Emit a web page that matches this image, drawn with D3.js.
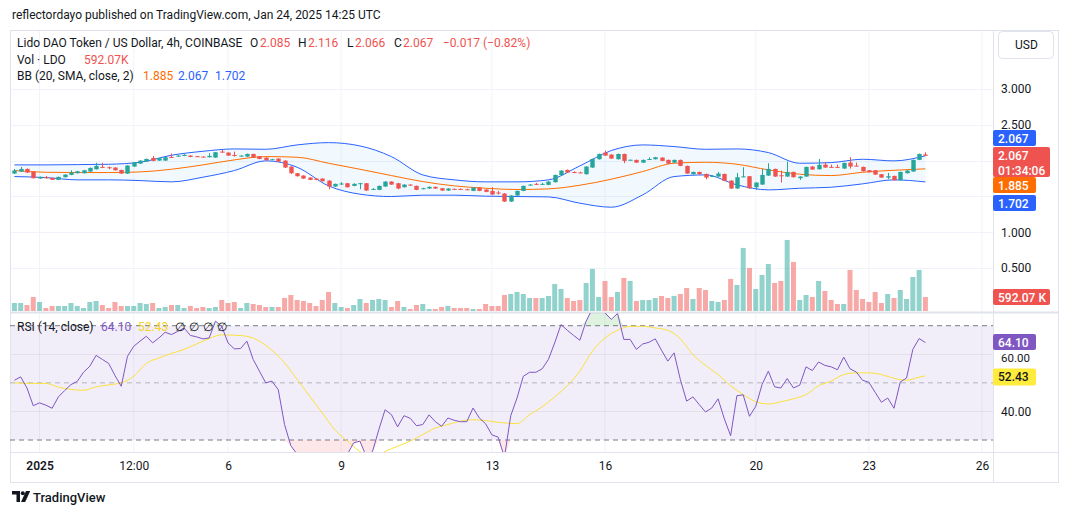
<!DOCTYPE html>
<html><head><meta charset="utf-8">
<script src="https://cdn.jsdelivr.net/npm/d3@7"></script>
<style>body{margin:0;background:#fff;} svg{display:block;font-family:Roboto,"Noto Sans",sans-serif;}</style>
</head><body><svg id="c" width="1068" height="515"></svg>
<script>
// ---- DATA (4h candles, index 0 = Dec 31 08:00, last = Jan 24 12:00) ----
const opens = [1.819,1.847,1.884,1.847,1.749,1.768,1.758,1.731,1.768,1.800,
1.824,1.824,1.847,1.879,1.912,1.907,1.903,1.870,1.819,1.917,
1.958,1.986,2.037,2.000,2.000,2.051,2.056,2.065,2.070,2.061,
2.056,2.047,2.042,2.126,2.112,2.079,2.061,2.056,2.093,2.061,
2.042,2.010,2.028,2.000,1.917,1.824,1.791,1.763,1.749,1.749,
1.721,1.638,1.670,1.684,1.647,1.680,1.684,1.598,1.591,1.638,
1.707,1.684,1.628,1.665,1.647,1.605,1.610,1.633,1.614,1.582,
1.605,1.605,1.600,1.577,1.624,1.596,1.577,1.554,1.540,1.428,
1.512,1.577,1.656,1.675,1.665,1.661,1.698,1.796,1.870,1.840,
1.835,1.810,1.903,2.019,2.112,2.084,2.019,2.093,2.008,2.010,
1.972,2.015,2.019,2.042,2.010,1.972,2.010,1.926,1.810,1.842,
1.814,1.782,1.777,1.814,1.721,1.610,1.775,1.782,1.628,1.665,
1.791,1.884,1.795,1.777,1.842,1.754,1.777,1.917,1.879,1.944,
1.912,1.912,1.889,1.972,1.930,1.912,1.865,1.865,1.810,1.763,
1.786,1.726,1.824,1.847,2.010,2.085];
const closes = [1.861,1.884,1.833,1.754,1.772,1.754,1.731,1.772,1.805,1.833,
1.851,1.865,1.898,1.926,1.905,1.894,1.865,1.819,1.931,1.977,
2.000,2.023,1.996,2.033,2.047,2.042,2.070,2.080,2.051,2.054,
2.047,2.065,2.117,2.112,2.070,2.065,2.070,2.093,2.042,2.023,
2.005,2.019,1.986,1.903,1.824,1.782,1.749,1.731,1.731,1.712,
1.638,1.675,1.680,1.628,1.675,1.684,1.582,1.605,1.647,1.707,
1.665,1.610,1.665,1.651,1.591,1.614,1.633,1.610,1.582,1.610,
1.596,1.596,1.591,1.624,1.577,1.563,1.526,1.545,1.428,1.512,
1.577,1.647,1.665,1.665,1.675,1.707,1.800,1.861,1.833,1.835,
1.830,1.917,2.023,2.093,2.070,2.028,2.093,1.996,2.012,1.972,
2.010,2.023,2.047,1.996,1.958,2.010,1.926,1.819,1.842,1.810,
1.763,1.786,1.819,1.717,1.610,1.768,1.780,1.614,1.693,1.800,
1.884,1.777,1.790,1.842,1.768,1.777,1.912,1.875,1.940,1.903,
1.908,1.908,1.968,1.917,1.926,1.851,1.838,1.805,1.763,1.782,
1.726,1.842,1.861,2.010,2.093,2.067];
const highs = [1.884,1.912,1.890,1.851,1.777,1.786,1.760,1.777,1.808,1.865,
1.856,1.870,1.903,1.970,1.970,1.917,1.907,1.872,1.935,1.980,
2.005,2.028,2.065,2.037,2.051,2.100,2.075,2.090,2.075,2.065,
2.060,2.103,2.120,2.149,2.115,2.126,2.075,2.098,2.096,2.064,
2.045,2.025,2.030,2.005,1.920,1.828,1.795,1.768,1.752,1.752,
1.724,1.678,1.700,1.688,1.684,1.690,1.688,1.615,1.651,1.712,
1.712,1.688,1.670,1.668,1.651,1.620,1.640,1.638,1.618,1.614,
1.610,1.612,1.608,1.628,1.628,1.600,1.628,1.577,1.545,1.517,
1.580,1.651,1.672,1.690,1.690,1.712,1.805,1.865,1.875,1.850,
1.845,1.920,2.026,2.097,2.140,2.088,2.097,2.097,2.015,2.014,
2.014,2.045,2.051,2.047,2.014,2.014,2.014,1.930,1.846,1.846,
1.818,1.796,1.842,1.818,1.725,1.828,1.907,1.786,1.698,1.884,
1.963,1.888,1.861,1.986,1.846,1.781,1.916,1.921,2.023,1.977,
1.944,1.944,1.972,2.047,1.972,1.916,1.869,1.869,1.814,1.828,
1.790,1.846,1.865,2.014,2.097,2.116];
const lows = [1.814,1.842,1.828,1.749,1.745,1.749,1.728,1.728,1.765,1.796,
1.820,1.820,1.842,1.875,1.903,1.879,1.861,1.814,1.814,1.912,
1.955,1.982,1.991,1.996,1.996,2.040,2.052,2.062,2.047,2.052,
2.044,2.044,2.040,2.108,2.066,2.056,2.058,2.052,2.038,2.019,
2.000,2.006,1.982,1.898,1.814,1.777,1.745,1.726,1.726,1.708,
1.600,1.634,1.660,1.624,1.642,1.600,1.577,1.591,1.587,1.633,
1.661,1.600,1.624,1.647,1.587,1.600,1.605,1.605,1.578,1.578,
1.591,1.590,1.587,1.573,1.573,1.558,1.521,1.526,1.424,1.424,
1.508,1.573,1.652,1.661,1.661,1.656,1.693,1.791,1.828,1.825,
1.825,1.805,1.898,2.014,2.066,2.024,2.014,1.963,2.000,1.968,
1.968,2.010,2.015,1.991,1.954,1.968,1.922,1.815,1.806,1.806,
1.740,1.772,1.773,1.712,1.606,1.606,1.768,1.605,1.591,1.661,
1.787,1.773,1.693,1.773,1.764,1.731,1.773,1.871,1.875,1.899,
1.904,1.904,1.885,1.889,1.921,1.847,1.834,1.801,1.759,1.740,
1.722,1.722,1.820,1.843,2.006,2.066];
// volume in thousands of LDO
const volumes = [338,338,254,592,381,127,212,212,212,338,
212,127,381,423,254,127,381,212,212,212,
338,296,338,127,169,254,254,127,212,127,
169,127,169,465,338,381,127,338,296,254,
169,169,169,550,677,465,423,338,212,465,
804,338,169,127,254,508,338,465,508,465,
169,423,169,85,254,296,85,85,169,212,
127,127,127,85,85,296,212,212,677,719,
804,719,550,550,550,635,1142,931,550,423,
465,1184,1777,592,1269,592,804,1396,1269,423,
465,465,550,635,550,635,719,973,508,973,
888,423,381,465,1354,1100,2665,1819,931,1523,
1988,1184,1269,3003,2073,465,677,592,1269,846,
465,296,296,1734,888,508,381,804,338,719,
550,888,508,1438,1734,592.07];
// Bollinger Bands read at every 5th candle
const bbIdx   = [0,5,10,15,20,25,30,35,40,45,50,55,60,65,70,75,80,85,90,95,100,105,110,115,120,125,130,135,140,145];
const bbUpper = [1.940,1.940,1.944,1.949,1.977,2.075,2.130,2.163,2.158,2.219,2.251,2.205,2.056,1.800,1.731,1.703,1.703,1.731,1.926,2.140,2.219,2.196,2.158,2.163,2.112,1.963,1.972,2.019,1.996,2.067];
const bbMid   = [1.861,1.837,1.833,1.833,1.842,1.879,1.940,2.010,2.056,2.047,1.963,1.879,1.791,1.707,1.647,1.614,1.596,1.605,1.656,1.740,1.847,1.963,1.977,1.949,1.870,1.810,1.791,1.837,1.865,1.885];
const bbLower = [1.777,1.763,1.731,1.731,1.721,1.703,1.768,1.861,1.996,1.907,1.647,1.531,1.498,1.517,1.517,1.503,1.498,1.493,1.405,1.349,1.521,1.777,1.800,1.661,1.591,1.614,1.628,1.675,1.731,1.702];
// RSI(14)
const rsi = [50.9,52.1,48.2,42.0,43.0,42.2,41.1,45.1,47.3,49.4,
50.5,53.7,55.8,59.6,58.2,56.8,52.6,48.8,59.3,62.8,
64.6,66.3,64.0,65.7,67.7,66.9,68.0,69.2,66.6,66.1,
65.4,65.7,71.6,69.8,64.0,61.9,62.0,64.6,58.2,54.1,
50.0,50.6,47.6,35.4,28.0,25.0,22.0,20.0,21.0,20.0,
16.0,20.0,21.5,25.0,29.0,29.6,24.3,26.0,33.6,40.6,
38.9,34.6,38.5,37.6,35.0,35.4,38.8,36.4,34.8,37.7,
36.9,36.4,36.4,41.2,37.7,35.7,31.8,31.0,24.0,38.5,
44.7,52.3,53.7,53.7,54.9,58.2,64.0,70.4,68.4,66.6,
64.9,71.6,76.0,77.4,74.5,72.2,74.3,65.2,65.2,61.7,
63.6,64.2,65.4,61.4,57.6,60.5,51.1,43.6,45.1,42.4,
39.8,41.2,44.4,37.4,31.5,45.5,45.8,38.3,41.8,49.4,
54.1,48.6,48.2,51.5,48.2,49.2,55.6,54.3,57.3,56.1,
55.6,54.6,59.0,54.9,53.8,50.9,50.2,46.7,43.2,44.7,
41.1,50.3,51.7,61.7,65.5,64.10];
// RSI-based MA read at sample candles
const maIdx = [0,3,5,7,9,11,13,15,17,19,21,23,25,27,29,31,33,35,37,39,41,43,45,47,49,51,53,55,57,59,61,63,65,67,69,71,73,75,77,80,82,84,86,88,90,92,94,96,98,100,102,104,106,108,110,112,114,116,118,120,122,124,126,128,130,132,134,136,138,140,142,144,145];
const maVal = [50.0,49.8,49.8,48.5,47.7,47.4,48.6,49.3,50.0,52.3,56.8,58.7,60.3,61.7,63.6,65.5,66.8,66.7,66.3,64.6,61.4,57.0,51.2,45.3,39.5,33.6,29.6,26.0,23.7,26.0,27.8,29.6,31.9,34.2,35.4,36.6,37.1,36.8,36.2,35.7,38.9,41.6,45.1,49.0,54.1,61.1,65.7,68.4,69.8,69.8,69.2,68.4,65.4,59.9,56.1,52.9,49.0,45.9,43.4,42.6,43.4,44.4,45.9,49.0,50.6,52.9,53.5,53.5,52.9,51.6,50.9,52.0,52.43];
// axis ticks
const priceGrid = [0.5,1.0,1.5,2.0,2.5,3.0];
const priceLabels = [0.5,1.0,2.5,3.0];   // 1.5 and 2.0 are hidden behind the value badges
const rsiTicks = [40,60];
const timeTickIdx = [4,19,34,52,76,94,118,136,154];
const timeTickLabels = ["2025","12:00","6","9","13","16","20","23","26"];

// ---- LAYOUT ----
const svg = d3.select("#c");
const L=10, R=993, FR=1058, T=30, PB=312, RB=452, XB=482;
const GREEN="#26a69a", RED="#ef5350", TXT="#131722", GRID="#f0f3fa", BORDER="#e0e3eb";
const x = d3.scaleLinear().domain([0,145]).range([14.4,925.4]);
const y = d3.scaleLinear().domain([0.5,3]).range([268,89]);
const yv = d3.scaleLinear().domain([0,3000]).range([311,240]);
const yr = d3.scaleLinear().domain([30,70]).range([440,325.7]);

const defs = svg.append("defs");
defs.append("clipPath").attr("id","cp").append("rect").attr("x",L).attr("y",T).attr("width",R-L).attr("height",PB-T);
defs.append("clipPath").attr("id","cr").append("rect").attr("x",L).attr("y",PB+1).attr("width",R-L).attr("height",RB-PB-1);

// header
svg.append("text").attr("x",12).attr("y",19).attr("font-size",12).attr("fill",TXT)
  .text("reflectordayo published on TradingView.com, Jan 24, 2025 14:25 UTC");

// grid
const g = svg.append("g");
g.selectAll(".vg").data(timeTickIdx).join("line").attr("x1",d=>x(d)).attr("x2",d=>x(d))
  .attr("y1",T).attr("y2",RB).attr("stroke",GRID).attr("stroke-width",1);
g.selectAll(".hg").data(priceGrid).join("line").attr("x1",L).attr("x2",R)
  .attr("y1",d=>Math.round(y(d))+0.5).attr("y2",d=>Math.round(y(d))+0.5).attr("stroke",GRID);

// RSI background + grid
svg.append("rect").attr("x",L).attr("width",R-L).attr("y",yr(70)).attr("height",yr(30)-yr(70)).attr("fill","rgba(126,87,194,0.1)");
svg.selectAll(".rg").data(rsiTicks).join("line").attr("x1",L).attr("x2",R)
  .attr("y1",d=>Math.round(yr(d))+0.5).attr("y2",d=>Math.round(yr(d))+0.5).attr("stroke","rgba(120,123,134,0.12)");

// frame lines
svg.append("rect").attr("x",L+0.5).attr("y",T+0.5).attr("width",FR-L).attr("height",XB-T).attr("fill","none").attr("stroke",BORDER);
svg.append("line").attr("x1",L).attr("x2",FR).attr("y1",PB+0.5).attr("y2",PB+0.5).attr("stroke",BORDER).attr("stroke-width",2);
svg.append("line").attr("x1",L).attr("x2",FR).attr("y1",RB+0.5).attr("y2",RB+0.5).attr("stroke",BORDER);
svg.append("line").attr("x1",R+0.5).attr("x2",R+0.5).attr("y1",T).attr("y2",XB).attr("stroke",BORDER);

// price pane
const pp = svg.append("g").attr("clip-path","url(#cp)");
const idx = d3.range(closes.length);
pp.selectAll(".vol").data(idx).join("rect")
  .attr("x",i=>x(i)-2.5).attr("width",5).attr("y",i=>yv(volumes[i])).attr("height",i=>yv(0)-yv(volumes[i]))
  .attr("fill",i=>closes[i]>=opens[i]?"rgba(38,166,154,0.5)":"rgba(239,83,80,0.5)");
const bbPts = bbIdx.map((d,k)=>({i:d,u:bbUpper[k],m:bbMid[k],l:bbLower[k]}));
pp.append("path").datum(bbPts).attr("fill","rgba(33,150,243,0.06)")
  .attr("d",d3.area().x(d=>x(d.i)).y0(d=>y(d.l)).y1(d=>y(d.u)).curve(d3.curveMonotoneX));
pp.append("path").datum(bbPts).attr("fill","none").attr("stroke","#2962ff").attr("stroke-width",1)
  .attr("d",d3.line().x(d=>x(d.i)).y(d=>y(d.u)).curve(d3.curveMonotoneX));
pp.append("path").datum(bbPts).attr("fill","none").attr("stroke","#2962ff").attr("stroke-width",1)
  .attr("d",d3.line().x(d=>x(d.i)).y(d=>y(d.l)).curve(d3.curveMonotoneX));
pp.append("path").datum(bbPts).attr("fill","none").attr("stroke","#ff6d00").attr("stroke-width",1)
  .attr("d",d3.line().x(d=>x(d.i)).y(d=>y(d.m)).curve(d3.curveMonotoneX));
const col = i=>closes[i]>=opens[i]?GREEN:RED;
pp.selectAll(".wick").data(idx).join("line")
  .attr("x1",i=>Math.round(x(i))+0.5).attr("x2",i=>Math.round(x(i))+0.5)
  .attr("y1",i=>y(highs[i])).attr("y2",i=>y(lows[i])).attr("stroke",col).attr("stroke-width",1);
pp.selectAll(".body").data(idx).join("rect")
  .attr("x",i=>Math.round(x(i))+0.5-2.2).attr("width",4.4)
  .attr("y",i=>y(Math.max(opens[i],closes[i])))
  .attr("height",i=>Math.max(1,Math.abs(y(opens[i])-y(closes[i]))))
  .attr("fill",col);

// RSI pane
const rp = svg.append("g").attr("clip-path","url(#cr)");
[70,30].forEach(v=>rp.append("line").attr("x1",L).attr("x2",R).attr("y1",yr(v)).attr("y2",yr(v))
  .attr("stroke","#787b86").attr("stroke-dasharray","5,4"));
rp.append("line").attr("x1",L).attr("x2",R).attr("y1",yr(50)).attr("y2",yr(50))
  .attr("stroke","rgba(120,123,134,0.5)").attr("stroke-dasharray","5,4");
rp.append("path").datum(idx).attr("fill","rgba(76,175,80,0.18)")
  .attr("d",d3.area().x(i=>x(i)).y0(yr(70)).y1(i=>yr(Math.max(rsi[i],70))));
rp.append("path").datum(idx).attr("fill","rgba(242,54,69,0.12)")
  .attr("d",d3.area().x(i=>x(i)).y0(yr(30)).y1(i=>yr(Math.min(rsi[i],30))));
rp.append("path").datum(maIdx.map((d,k)=>[d,maVal[k]])).attr("fill","none").attr("stroke","#fbe13d").attr("stroke-width",1)
  .attr("d",d3.line().x(d=>x(d[0])).y(d=>yr(d[1])).curve(d3.curveMonotoneX));
rp.append("path").datum(idx).attr("fill","none").attr("stroke","#7e57c2").attr("stroke-width",1)
  .attr("d",d3.line().x(i=>x(i)).y(i=>yr(rsi[i])));

// axes
const ax = svg.append("g").attr("transform",`translate(${R},0)`)
  .call(d3.axisRight(y).tickValues(priceLabels).tickFormat(d3.format(".3f")).tickSize(0).tickPadding(8));
const axr = svg.append("g").attr("transform",`translate(${R},0)`)
  .call(d3.axisRight(yr).tickValues(rsiTicks).tickFormat(d3.format(".2f")).tickSize(0).tickPadding(8));
const axx = svg.append("g").attr("transform",`translate(0,${RB})`)
  .call(d3.axisBottom(x).tickValues(timeTickIdx).tickFormat((d,k)=>timeTickLabels[k]).tickSize(0).tickPadding(9));
[ax,axr,axx].forEach(a=>{a.select(".domain").remove();
  a.selectAll("text").attr("font-size",12).attr("fill",TXT).attr("font-family","Roboto,'Noto Sans',sans-serif");});
axr.selectAll("text").filter(d=>d===60).attr("font-size",11.5).attr("dy","0.62em");
axx.selectAll("text").filter((d,k)=>k===0).attr("font-weight",600);

// legend
function seg(yy, parts){ parts.forEach(p=>svg.append("text").attr("x",p[0]).attr("y",yy).attr("font-size",12)
  .attr("fill",p[2]||TXT).text(p[1])); }
const last = closes.length-1;
const f3 = d3.format(".3f");
seg(47,[[17,"Lido DAO Token / US Dollar, 4h, COINBASE"],[250,"O"],[260,f3(opens[last]),RED],[298,"H"],[308,f3(highs[last]),RED],
  [347,"L"],[355,f3(lows[last]),RED],[394,"C"],[403,f3(closes[last]),RED],[443,"−0.017 (−0.82%)",RED]]);
seg(64,[[17,"Vol · LDO"],[84,d3.format(".2f")(volumes[last])+"K",RED]]);
seg(80,[[17,"BB (20, SMA, close, 2)"],[143,f3(bbMid[bbMid.length-1]),"#ff6d00"],[178,f3(bbUpper[bbUpper.length-1]),"#2962ff"],[215,f3(bbLower[bbLower.length-1]),"#2962ff"]]);
seg(331,[[17,"RSI (14, close)"],[101,d3.format(".2f")(rsi[last]),"#7e57c2"],[138,d3.format(".2f")(maVal[maVal.length-1]),"#f5d327"],
  [175,"∅"],[189,"∅"],[203,"∅"],[217,"∅"]]);

// USD button
svg.append("rect").attr("x",998.5).attr("y",31.5).attr("width",55).attr("height",27).attr("rx",4)
  .attr("fill","#fff").attr("stroke",BORDER);
svg.append("text").attr("x",1015).attr("y",49).attr("font-size",12).attr("fill",TXT).text("USD");

// badges
function badge(yc,h,w,bg,lines,fg){
  svg.append("rect").attr("x",R).attr("y",yc-h/2).attr("width",w).attr("height",h).attr("rx",2).attr("fill",bg);
  lines.forEach((t,k)=>svg.append("text").attr("x",R+5).attr("y",yc-h/2+12.5+k*15).attr("font-size",12)
    .attr("font-weight",500).attr("fill",fg||"#fff").text(t));
}
badge(138,16,43,"#2962ff",[f3(bbUpper[bbUpper.length-1])]);
badge(162,30,57,RED,[f3(closes[last]),"01:34:06"]);
badge(185,16,43,"#ff6d00",[f3(bbMid[bbMid.length-1])]);
badge(203,16,43,"#2962ff",[f3(bbLower[bbLower.length-1])]);
badge(297,16,57,RED,[d3.format(".2f")(volumes[last])+" K"]);
badge(342,16,43,"#7e57c2",[d3.format(".2f")(rsi[last])]);
badge(377,17,43,"#ffeb3b",[d3.format(".2f")(maVal[maVal.length-1])],TXT);

// footer logo
svg.append("path").attr("d","M12 491h8v11h-3.5v-7.5H12z").attr("fill",TXT);
svg.append("circle").attr("cx",22.8).attr("cy",493.2).attr("r",2).attr("fill",TXT);
svg.append("path").attr("d","M26 491h4.2l-5 11H21z").attr("fill",TXT);
svg.append("text").attr("x",33).attr("y",502).attr("font-size",13).attr("font-weight",500).attr("fill",TXT).text("TradingView");
</script></body></html>
